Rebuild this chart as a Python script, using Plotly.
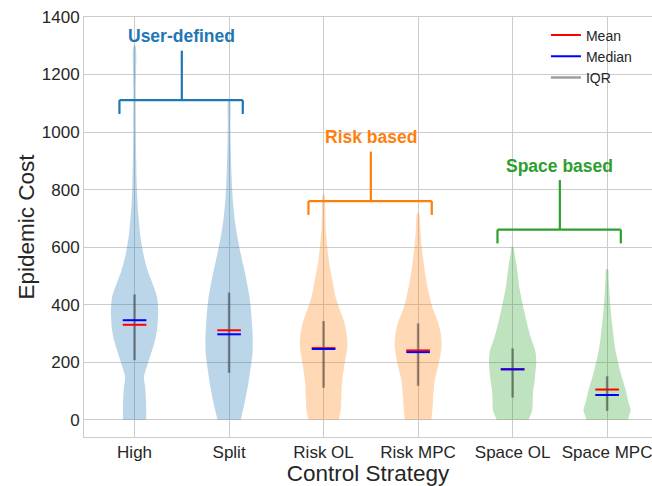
import plotly.graph_objects as go

# ---------------- data ----------------
categories = ["High", "Split", "Risk OL", "Risk MPC", "Space OL", "Space MPC"]
y_ticks = [0, 200, 400, 600, 800, 1000, 1200, 1400]

# violin outlines: cost levels and relative density (1 = widest point)
high_y = [0, 56, 114, 149, 195, 265, 311, 381, 427, 474, 520, 578, 636, 694, 752, 810, 900, 1000, 1150, 1300]
high_w = [0.49, 0.49, 0.45, 0.40, 0.56, 0.83, 0.95, 1.00, 0.95, 0.76, 0.55, 0.37, 0.25, 0.18, 0.125, 0.095, 0.07, 0.055, 0.05, 0.035]

split_y = [0, 56, 114, 172, 230, 288, 346, 404, 462, 520, 578, 636, 694, 752, 810, 868, 950, 1030, 1110]
split_w = [0.49, 0.65, 0.79, 0.90, 0.99, 1.00, 0.96, 0.90, 0.79, 0.65, 0.49, 0.35, 0.24, 0.17, 0.125, 0.095, 0.07, 0.055, 0.035]

riskol_y = [0, 30, 79, 137, 195, 253, 288, 335, 369, 427, 485, 543, 601, 659, 717, 781]
riskol_w = [0.64, 0.72, 0.75, 0.79, 0.89, 1.00, 0.99, 0.89, 0.75, 0.51, 0.375, 0.24, 0.155, 0.095, 0.07, 0.035]

riskmpc_y = [0, 30, 79, 137, 195, 253, 299, 345, 392, 438, 485, 543, 601, 659, 719]
riskmpc_w = [0.56, 0.60, 0.64, 0.71, 0.875, 0.99, 0.96, 0.82, 0.60, 0.46, 0.345, 0.24, 0.155, 0.095, 0.035]

spaceol_y = [0, 33, 91, 149, 207, 242, 288, 346, 404, 462, 520, 578, 601]
spaceol_w = [0.67, 0.83, 0.86, 0.95, 1.00, 0.95, 0.76, 0.58, 0.42, 0.28, 0.195, 0.083, 0.035]

spacempc_y = [0, 15, 33, 54, 114, 161, 207, 253, 311, 369, 427, 485, 523]
spacempc_w = [0.875, 0.93, 1.00, 0.93, 0.75, 0.58, 0.445, 0.33, 0.24, 0.165, 0.11, 0.07, 0.035]

profiles_y = [high_y, split_y, riskol_y, riskmpc_y, spaceol_y, spacempc_y]
profiles_w = [high_w, split_w, riskol_w, riskmpc_w, spaceol_w, spacempc_w]

means = [330, 311, 249, 241, 176, 105]
medians = [346, 297, 246, 235, 175, 86]
q1 = [207, 163, 111, 118, 77, 31]
q3 = [436, 442, 343, 335, 248, 151]

group_labels = ["User-defined", "Risk based", "Space based"]
group_members = [(1, 2), (3, 4), (5, 6)]
group_bar_y = [1111, 760, 661]

# ---------------- styling ----------------
C = ["#1f77b4", "#ff7f0e", "#2ca02c"]
FILL = ["rgba(31,119,180,0.3)", "rgba(255,127,14,0.3)", "rgba(44,160,44,0.3)"]
cat_group = [0, 0, 1, 1, 2, 2]
FONT = "Liberation Sans, Arial, sans-serif"
TXT = "#262626"
GRID = "#cccccc"
HALF_WIDTH = 0.25
LINE_HALF = 0.125

fig = go.Figure()
positions = list(range(1, len(categories) + 1))

for i, pos in enumerate(positions):
    ys = profiles_y[i]
    ws = profiles_w[i]
    xs = [pos - HALF_WIDTH * w for w in ws] + [pos + HALF_WIDTH * w for w in reversed(ws)]
    yy = list(ys) + list(reversed(ys))
    fig.add_trace(go.Scatter(
        x=xs, y=yy, mode="lines", fill="toself",
        fillcolor=FILL[cat_group[i]],
        line=dict(width=0, shape="spline", smoothing=0.8),
        showlegend=False, hoverinfo="skip"))

iqr_x, iqr_y, mean_x, mean_y, med_x, med_y = [], [], [], [], [], []
for i, pos in enumerate(positions):
    iqr_x += [pos, pos, None]
    iqr_y += [q1[i], q3[i], None]
    mean_x += [pos - LINE_HALF, pos + LINE_HALF, None]
    mean_y += [means[i], means[i], None]
    med_x += [pos - LINE_HALF, pos + LINE_HALF, None]
    med_y += [medians[i], medians[i], None]

fig.add_trace(go.Scatter(x=iqr_x, y=iqr_y, mode="lines", name="IQR",
                         line=dict(color="rgba(0,0,0,0.38)", width=2.5),
                         legendrank=3, legendgroup="c", hoverinfo="skip"))
fig.add_trace(go.Scatter(x=mean_x, y=mean_y, mode="lines", name="Mean",
                         line=dict(color="red", width=2),
                         legendrank=1, legendgroup="a", hoverinfo="skip"))
fig.add_trace(go.Scatter(x=med_x, y=med_y, mode="lines", name="Median",
                         line=dict(color="blue", width=2),
                         legendrank=2, legendgroup="b", hoverinfo="skip"))

# group brackets
TICK_DOWN = 48
STEM_UP = 172
TEXT_UP = 50
for g, label in enumerate(group_labels):
    a, b = group_members[g]
    yb = group_bar_y[g]
    col = C[g]
    xl, xr = a - 0.16, b + 0.145
    xm = (a + b) / 2
    for (x0, y0, x1, y1) in [(xl, yb, xr, yb), (xl, yb, xl, yb - TICK_DOWN),
                             (xr, yb, xr, yb - TICK_DOWN), (xm, yb, xm, yb + STEM_UP)]:
        fig.add_shape(type="line", x0=x0, y0=y0, x1=x1, y1=y1, xref="x", yref="y",
                      line=dict(color=col, width=2.2))
    fig.add_annotation(x=xm, y=yb + STEM_UP + TEXT_UP, xref="x", yref="y",
                       text=label, showarrow=False,
                       font=dict(family=FONT, size=17.5, color=col, weight="bold"))

fig.update_layout(
    width=652, height=486,
    margin=dict(l=84, r=0, t=17, b=49, autoexpand=False),
    plot_bgcolor="white", paper_bgcolor="white",
    font=dict(family=FONT, color=TXT),
    legend=dict(x=0.8133, y=0.994, xanchor="left", yanchor="top",
                bgcolor="rgba(0,0,0,0)", font=dict(size=14, color=TXT),
                traceorder="grouped", tracegroupgap=0),
    showlegend=True,
)
fig.update_xaxes(
    range=[0.465, 6.475], tickvals=positions, ticktext=categories,
    showgrid=True, gridcolor=GRID, gridwidth=1, zeroline=False,
    showline=True, linecolor=GRID, linewidth=1, mirror=True,
    tickfont=dict(size=17, color=TXT), automargin=False, ticklabeloverflow="allow",
    title=dict(text="Control Strategy", font=dict(size=22.5, color=TXT), standoff=0),
)
fig.update_yaxes(
    range=[-60, 1400], tickvals=y_ticks,
    showgrid=True, gridcolor=GRID, gridwidth=1, zeroline=False,
    showline=True, linecolor=GRID, linewidth=1, automargin=False,
    tickfont=dict(size=17, color=TXT),
    title=dict(text="Epidemic Cost", font=dict(size=22.5, color=TXT), standoff=0),
)

fig.write_html("out.html", config={"displayModeBar": False},
               post_script="document.body.style.margin='0';document.body.style.overflow='hidden';")
